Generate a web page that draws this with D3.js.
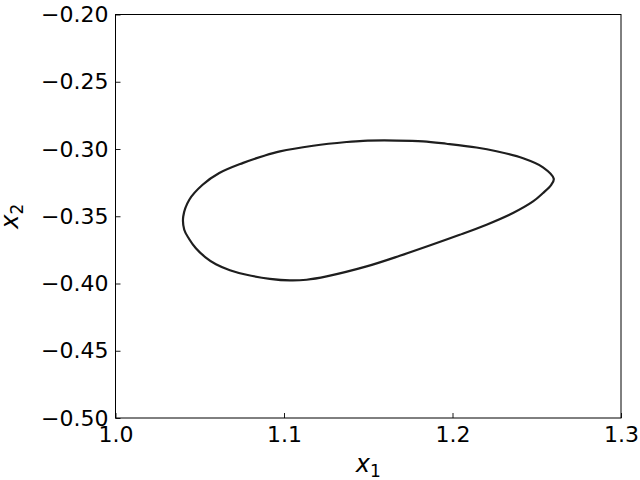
<!DOCTYPE html>
<html>
<head>
<meta charset="utf-8">
<script src="https://cdn.jsdelivr.net/npm/d3@7"></script>
<style>
  body { margin: 0; background: #fff; }
  svg { display: block; font-family: "DejaVu Sans", sans-serif; }
</style>
</head>
<body>
<div id="svganchor"></div>
<script>
let width = 640;
let height = 480;
let margin = { top: 14.5, right: 19, bottom: 62, left: 115.5 };

// limit cycle, going round from the right tip
let x1Values = [1.2601, 1.2537, 1.2419, 1.2261, 1.2142, 1.1964, 1.1826, 1.1668, 1.1470,
  1.1371, 1.1173, 1.0976, 1.0883, 1.0754, 1.0616, 1.0517, 1.0438, 1.0402, 1.0408,
  1.0436, 1.0477, 1.0534, 1.0596, 1.0679, 1.0778, 1.0916, 1.1035, 1.1134, 1.1253,
  1.1490, 1.1687, 1.2043, 1.2202, 1.2359, 1.2478, 1.2536, 1.2586];
let x2Values = [-0.3221, -0.3136, -0.3069, -0.3017, -0.2989, -0.2961, -0.2943, -0.2937, -0.2939,
  -0.2948, -0.2976, -0.3018, -0.3050, -0.3105, -0.3179, -0.3266, -0.3377, -0.3502, -0.3600,
  -0.3667, -0.3738, -0.3805, -0.3857, -0.3901, -0.3935, -0.3965, -0.3977, -0.3972, -0.3947,
  -0.3873, -0.3794, -0.3638, -0.3563, -0.3476, -0.3390, -0.3329, -0.3266];

let xTicks = [1.0, 1.1, 1.2, 1.3];
let yTicks = [-0.50, -0.45, -0.40, -0.35, -0.30, -0.25, -0.20];

let points = x1Values.map(function (d, i) {
  return { x1: d, x2: x2Values[i] };
});

let svg = d3.select("#svganchor").append("svg").attr("width", width).attr("height", height);

let xScale = d3.scaleLinear().domain([1.0, 1.3]).range([margin.left, width - margin.right]);
let yScale = d3.scaleLinear().domain([-0.5, -0.2]).range([height - margin.bottom, margin.top]);

// the orbit
let line = d3.line()
  .x(function (d) { return xScale(d.x1); })
  .y(function (d) { return yScale(d.x2); })
  .curve(d3.curveCatmullRomClosed.alpha(0.5));

svg.append("path")
  .datum(points)
  .attr("d", line)
  .attr("fill", "none")
  .attr("stroke", "#1e1e1e")
  .attr("stroke-width", 2.2);

// axes, ticks pointing inward
let xAxis = d3.axisBottom(xScale)
  .tickValues(xTicks)
  .tickFormat(d3.format(".1f"))
  .tickSizeInner(-5)
  .tickSizeOuter(0)
  .tickPadding(8);

let yAxis = d3.axisLeft(yScale)
  .tickValues(yTicks)
  .tickFormat(d3.format(".2f"))
  .tickSizeInner(-5)
  .tickSizeOuter(0)
  .tickPadding(7);

let gx = svg.append("g")
  .attr("transform", "translate(0," + (height - margin.bottom) + ")")
  .call(xAxis);

let gy = svg.append("g")
  .attr("transform", "translate(" + margin.left + ",0)")
  .call(yAxis);

[gx, gy].forEach(function (g) {
  g.select(".domain").remove();
  g.selectAll(".tick line").attr("stroke", "#000").attr("stroke-width", 0.9);
  g.selectAll(".tick text")
    .attr("fill", "#000")
    .style("font-size", "22px")
    .style("font-family", "DejaVu Sans");
});

// frame
svg.append("rect")
  .attr("x", margin.left)
  .attr("y", margin.top)
  .attr("width", width - margin.right - margin.left)
  .attr("height", height - margin.bottom - margin.top)
  .attr("fill", "none")
  .attr("stroke", "#000")
  .attr("stroke-width", 1);

// axis labels
let xLabel = svg.append("text")
  .attr("x", (xScale.range()[0] + xScale.range()[1]) / 2)
  .attr("y", 472)
  .attr("text-anchor", "middle")
  .style("font-size", "24px");
xLabel.append("tspan").style("font-style", "italic").text("x");
xLabel.append("tspan").attr("dy", 5).style("font-size", "17px").text("1");

let yLabel = svg.append("text")
  .attr("transform", "translate(18," + ((yScale.range()[0] + yScale.range()[1]) / 2) + ") rotate(-90)")
  .attr("text-anchor", "middle")
  .style("font-size", "24px");
yLabel.append("tspan").style("font-style", "italic").text("x");
yLabel.append("tspan").attr("dy", 5).style("font-size", "17px").text("2");
</script>
</body>
</html>
